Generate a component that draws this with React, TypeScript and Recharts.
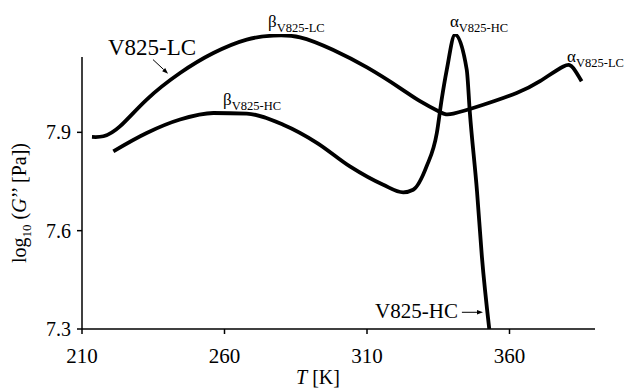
import React from 'react';
import {
  LineChart,
  Line,
  XAxis,
  YAxis,
  ReferenceLine,
  ReferenceDot,
} from 'recharts';

// temperature / log10(G'') readings for the two samples
const lcT = [213.5, 217.5, 223.3, 232.7, 244.4, 256.1, 267.8, 277.1, 286.5, 298, 310, 321.6, 328.6, 335.6, 340.3, 350.8, 362.5, 370.7, 378.9, 382.4, 385.3];
const lcG = [7.886, 7.888, 7.918, 8.0, 8.081, 8.142, 8.183, 8.195, 8.19, 8.152, 8.098, 8.035, 7.995, 7.962, 7.957, 7.984, 8.02, 8.056, 8.101, 8.096, 8.056];

const hcT = [221, 232.7, 244.4, 256.1, 267.8, 280.6, 292.4, 304, 315.7, 322.7, 326.2, 330.9, 334.5, 336.2, 338, 340.9, 345, 346.1, 348.6, 350.3, 352.9];
const hcG = [7.842, 7.898, 7.939, 7.959, 7.957, 7.923, 7.868, 7.796, 7.74, 7.717, 7.725, 7.796, 7.898, 8.0, 8.091, 8.198, 8.091, 7.959, 7.72, 7.522, 7.3];

const xTicks = [210, 260, 310, 360];
const yTicks = [7.3, 7.6, 7.9];

const lcData = lcT.map((t, i) => ({ t, g: lcG[i] }));
const hcData = hcT.map((t, i) => ({ t, g: hcG[i] }));

const FONT = 'Liberation Serif, DejaVu Serif, serif';

// text label with a subscript, drawn at the dot's position
const subLabel = (main: string, sub: string, mainSize = 17, subSize = 12.5) => (props: any) => (
  <text x={props.cx} y={props.cy} fontFamily={FONT} fill="#000">
    <tspan fontSize={mainSize}>{main}</tspan>
    <tspan fontSize={subSize} dy={5}>{sub}</tspan>
  </text>
);

const plainLabel = (s: string, size: number, anchor: 'start' | 'end' = 'start') => (props: any) => (
  <text x={props.cx} y={props.cy} fontFamily={FONT} fontSize={size} fill="#000" textAnchor={anchor}>
    {s}
  </text>
);

const Arrow = (props: any) => {
  const { x1, y1, x2, y2 } = props;
  const ang = Math.atan2(y2 - y1, x2 - x1);
  const len = 6;
  const w = 2.2;
  const bx = x2 - len * Math.cos(ang);
  const by = y2 - len * Math.sin(ang);
  const px = -Math.sin(ang) * w;
  const py = Math.cos(ang) * w;
  return (
    <g>
      <line x1={x1} y1={y1} x2={bx} y2={by} stroke="#000" strokeWidth={1} />
      <polygon points={`${x2},${y2} ${bx + px},${by + py} ${bx - px},${by - py}`} fill="#000" />
    </g>
  );
};

const XTick = (props: any) => {
  const { x, y, payload } = props;
  return (
    <text x={x} y={y + 27} textAnchor="middle" fontFamily={FONT} fontSize={21} fill="#000">
      {payload.value}
    </text>
  );
};

const YTick = (props: any) => {
  const { x, y, payload } = props;
  return (
    <text x={x - 4} y={y + 7} textAnchor="end" fontFamily={FONT} fontSize={20} fill="#000">
      {Number(payload.value).toFixed(1)}
    </text>
  );
};

const YLabel = () => {
  const x = 26;
  const y = 203;
  return (
    <text
      x={x}
      y={y}
      transform={`rotate(-90, ${x}, ${y})`}
      textAnchor="middle"
      fontFamily={FONT}
      fontSize={20}
      fill="#000"
    >
      <tspan>log</tspan>
      <tspan fontSize={13} dy={5}>10</tspan>
      <tspan dy={-5}> (</tspan>
      <tspan fontStyle="italic">G</tspan>
      <tspan>’’ [Pa])</tspan>
    </text>
  );
};

const XLabel = () => (
  <text x={318} y={384} textAnchor="middle" fontFamily={FONT} fontSize={20} fill="#000">
    <tspan fontStyle="italic">T</tspan>
    <tspan> [K]</tspan>
  </text>
);

export default function App() {
  return (
    <div style={{ position: 'absolute', left: 0, top: 0, width: 626, height: 388, background: '#fff', fontFamily: FONT }}>
      <LineChart width={626} height={388} margin={{ top: 34, right: 31, bottom: 0, left: 0 }} style={{ fontFamily: FONT }}>
        <XAxis
          type="number"
          dataKey="t"
          domain={[210, 390]}
          ticks={xTicks}
          allowDataOverflow
          height={59}
          stroke="#000"
          strokeWidth={1.5}
          tickSize={5}
          tick={XTick}
          label={{ content: XLabel }}
        />
        <YAxis
          type="number"
          dataKey="g"
          domain={[7.3, 8.2]}
          ticks={yTicks}
          allowDataOverflow
          width={82}
          axisLine={false}
          tickLine={{ stroke: '#000', strokeWidth: 1.5 }}
          tickSize={5}
          tick={YTick}
          label={{ content: YLabel }}
        />
        <ReferenceLine
          segment={[{ x: 210, y: 7.3 }, { x: 210, y: 8.13 }]}
          stroke="#000"
          strokeWidth={1.5}
          ifOverflow="visible"
        />
        <Line
          data={lcData}
          dataKey="g"
          type="natural"
          stroke="#000"
          strokeWidth={3.8}
          dot={false}
          isAnimationActive={false}
        />
        <Line
          data={hcData}
          dataKey="g"
          type="monotone"
          stroke="#000"
          strokeWidth={3.8}
          dot={false}
          isAnimationActive={false}
        />
        <ReferenceDot x={219.1} y={8.137} r={0} ifOverflow="visible" shape={plainLabel('V825-LC', 23)} />
        <ReferenceLine
          segment={[{ x: 234.9, y: 8.122 }, { x: 240.2, y: 8.079 }]}
          ifOverflow="visible"
          shape={Arrow}
        />
        <ReferenceDot x={275.3} y={8.222} r={0} ifOverflow="visible" shape={subLabel('β', 'V825-LC')} />
        <ReferenceDot x={259.5} y={7.984} r={0} ifOverflow="visible" shape={subLabel('β', 'V825-HC')} />
        <ReferenceDot x={339.1} y={8.222} r={0} ifOverflow="visible" shape={subLabel('α', 'V825-HC')} />
        <ReferenceDot x={380.2} y={8.116} r={0} ifOverflow="visible" shape={subLabel('α', 'V825-LC')} />
        <ReferenceDot x={341.9} y={7.334} r={0} ifOverflow="visible" shape={plainLabel('V825-HC', 21, 'end')} />
        <ReferenceLine
          segment={[{ x: 343.3, y: 7.351 }, { x: 350.7, y: 7.351 }]}
          ifOverflow="visible"
          shape={Arrow}
        />
      </LineChart>
    </div>
  );
}
